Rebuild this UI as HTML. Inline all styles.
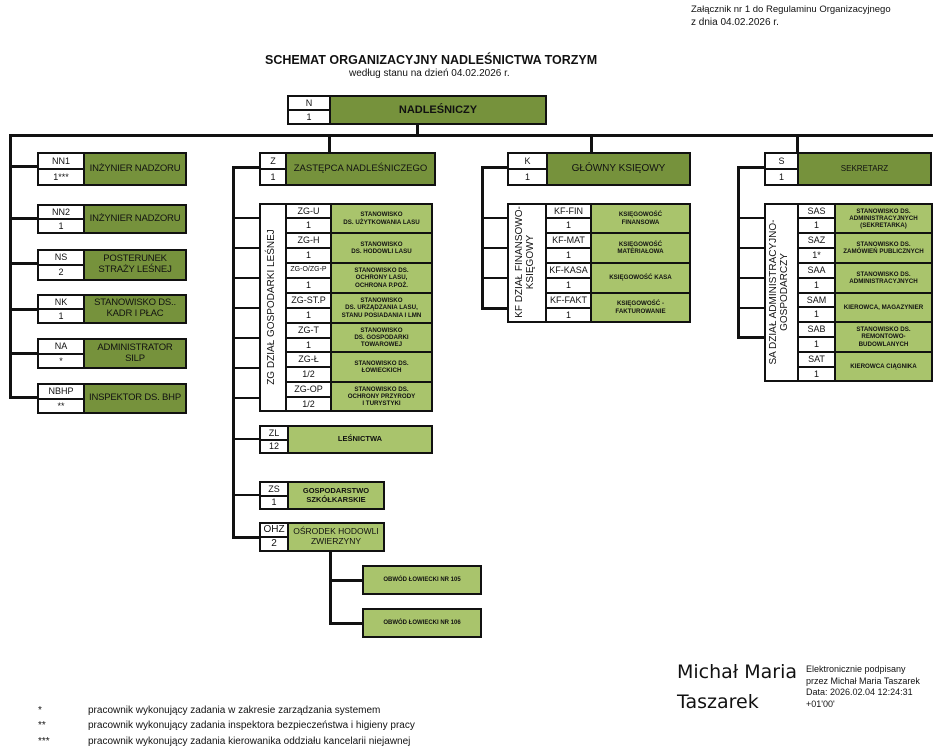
<!DOCTYPE html>
<html><head><meta charset="utf-8"><style>
body{margin:0;width:940px;height:754px;background:#fff;position:relative;overflow:hidden;font-family:"Liberation Sans",sans-serif;color:#111}
.r{position:absolute;box-sizing:border-box;border:2px solid #111;display:flex;align-items:center;justify-content:center;text-align:center;line-height:1.15;background:#fff}
.g{background:#76923c}
.l{background:#a9c46c;font-weight:bold;font-size:6.2px}
.h{position:absolute;background:#111}
.t{position:absolute;white-space:nowrap}
.c{font-size:9px}
.v{position:absolute;transform:rotate(-90deg);transform-origin:center;white-space:nowrap;text-align:center;font-size:10px;line-height:1.1}
.lg{font-size:9.5px;letter-spacing:-0.2px}
</style></head><body>
<div class="t" style="left:691px;top:4px;font-size:9.5px">Załącznik nr 1 do Regulaminu Organizacyjnego</div>
<div class="t" style="left:691px;top:17px;font-size:10px">z dnia 04.02.2026 r.</div>
<div class="t" style="left:265px;top:53px;font-size:12.5px;font-weight:bold">SCHEMAT ORGANIZACYJNY NADLEŚNICTWA TORZYM</div>
<div class="t" style="left:349px;top:68px;font-size:10px">według stanu na dzień 04.02.2026 r.</div>

<div class="r c" style="left:287px;top:95px;width:44px;height:16px">N</div>
<div class="r c" style="left:287px;top:109px;width:44px;height:16px">1</div>
<div class="r g" style="left:329px;top:95px;width:218px;height:30px;font-size:11px;font-weight:bold">NADLEŚNICZY</div>
<div class="h" style="left:416px;top:124px;width:3px;height:12px"></div>
<div class="h" style="left:9px;top:134px;width:924px;height:3px"></div>
<div class="h" style="left:9px;top:134px;width:3px;height:265px"></div>
<div class="h" style="left:328px;top:134px;width:3px;height:19px"></div>
<div class="h" style="left:590px;top:134px;width:3px;height:19px"></div>
<div class="h" style="left:796px;top:134px;width:3px;height:19px"></div>

<div class="h" style="left:9px;top:165px;width:29px;height:3px"></div>
<div class="h" style="left:9px;top:217px;width:29px;height:3px"></div>
<div class="h" style="left:9px;top:262px;width:29px;height:3px"></div>
<div class="h" style="left:9px;top:308px;width:29px;height:3px"></div>
<div class="h" style="left:9px;top:352px;width:29px;height:3px"></div>
<div class="h" style="left:9px;top:396px;width:29px;height:3px"></div>

<div class="r c" style="left:37px;top:152px;width:48px;height:18px">NN1</div>
<div class="r c" style="left:37px;top:168px;width:48px;height:18px">1***</div>
<div class="r g lg" style="left:83px;top:152px;width:104px;height:34px">INŻYNIER NADZORU</div>
<div class="r c" style="left:37px;top:204px;width:48px;height:16px">NN2</div>
<div class="r c" style="left:37px;top:218px;width:48px;height:16px">1</div>
<div class="r g lg" style="left:83px;top:204px;width:104px;height:30px">INŻYNIER NADZORU</div>
<div class="r c" style="left:37px;top:249px;width:48px;height:17px">NS</div>
<div class="r c" style="left:37px;top:264px;width:48px;height:17px">2</div>
<div class="r g lg" style="left:83px;top:249px;width:104px;height:32px">POSTERUNEK<br>STRAŻY LEŚNEJ</div>
<div class="r c" style="left:37px;top:294px;width:48px;height:16px">NK</div>
<div class="r c" style="left:37px;top:308px;width:48px;height:16px">1</div>
<div class="r g lg" style="left:83px;top:294px;width:104px;height:30px">STANOWISKO DS..<br>KADR I PŁAC</div>
<div class="r c" style="left:37px;top:338px;width:48px;height:17px">NA</div>
<div class="r c" style="left:37px;top:353px;width:48px;height:16px">*</div>
<div class="r g lg" style="left:83px;top:338px;width:104px;height:31px">ADMINISTRATOR<br>SILP</div>
<div class="r c" style="left:37px;top:383px;width:48px;height:17px">NBHP</div>
<div class="r c" style="left:37px;top:398px;width:48px;height:16px">**</div>
<div class="r g lg" style="left:83px;top:383px;width:104px;height:31px;white-space:nowrap">INSPEKTOR DS. BHP</div>

<div class="r c" style="left:259px;top:152px;width:28px;height:18px">Z</div>
<div class="r c" style="left:259px;top:168px;width:28px;height:18px">1</div>
<div class="r g" style="left:285px;top:152px;width:151px;height:34px;font-size:9.5px">ZASTĘPCA NADLEŚNICZEGO</div>
<div class="h" style="left:232px;top:166px;width:3px;height:373px"></div>
<div class="h" style="left:232px;top:166px;width:28px;height:3px"></div>
<div class="h" style="left:232px;top:217px;width:28px;height:1.5px"></div>
<div class="h" style="left:232px;top:247px;width:28px;height:1.5px"></div>
<div class="h" style="left:232px;top:277px;width:28px;height:1.5px"></div>
<div class="h" style="left:232px;top:307px;width:28px;height:1.5px"></div>
<div class="h" style="left:232px;top:337px;width:28px;height:1.5px"></div>
<div class="h" style="left:232px;top:367px;width:28px;height:1.5px"></div>
<div class="h" style="left:232px;top:397px;width:28px;height:1.5px"></div>
<div class="h" style="left:232px;top:438px;width:28px;height:1.5px"></div>
<div class="h" style="left:232px;top:494px;width:28px;height:1.5px"></div>
<div class="h" style="left:232px;top:536px;width:28px;height:3px"></div>
<div class="r" style="left:259px;top:203px;width:28px;height:209px"></div>
<div class="v" style="left:173px;top:300px;width:200px;height:14px">ZG DZIAŁ GOSPODARKI LEŚNEJ</div>
<div class="r c" style="left:285px;top:203px;width:47px;height:16px">ZG-U</div><div class="r c" style="left:285px;top:217px;width:47px;height:17px">1</div><div class="r l" style="left:330px;top:203px;width:103px;height:31px">STANOWISKO<br>DS. UŻYTKOWANIA LASU</div>
<div class="r c" style="left:285px;top:232px;width:47px;height:17px">ZG-H</div><div class="r c" style="left:285px;top:247px;width:47px;height:17px">1</div><div class="r l" style="left:330px;top:232px;width:103px;height:32px">STANOWISKO<br>DS. HODOWLI LASU</div>
<div class="r" style="left:285px;top:262px;width:47px;height:17px;font-size:7px">ZG-O/ZG-P</div><div class="r c" style="left:285px;top:277px;width:47px;height:17px">1</div><div class="r l" style="left:330px;top:262px;width:103px;height:32px">STANOWISKO DS.<br>OCHRONY LASU,<br>OCHRONA P.POŻ.</div>
<div class="r c" style="left:285px;top:292px;width:47px;height:17px">ZG-ST.P</div><div class="r c" style="left:285px;top:307px;width:47px;height:17px">1</div><div class="r l" style="left:330px;top:292px;width:103px;height:32px">STANOWISKO<br>DS. URZĄDZANIA LASU,<br>STANU POSIADANIA I LMN</div>
<div class="r c" style="left:285px;top:322px;width:47px;height:17px">ZG-T</div><div class="r c" style="left:285px;top:337px;width:47px;height:16px">1</div><div class="r l" style="left:330px;top:322px;width:103px;height:31px">STANOWISKO<br>DS. GOSPODARKI<br>TOWAROWEJ</div>
<div class="r c" style="left:285px;top:351px;width:47px;height:17px">ZG-Ł</div><div class="r c" style="left:285px;top:366px;width:47px;height:17px">1/2</div><div class="r l" style="left:330px;top:351px;width:103px;height:32px">STANOWISKO DS.<br>ŁOWIECKICH</div>
<div class="r c" style="left:285px;top:381px;width:47px;height:17px">ZG-OP</div><div class="r c" style="left:285px;top:396px;width:47px;height:16px">1/2</div><div class="r l" style="left:330px;top:381px;width:103px;height:31px">STANOWISKO DS.<br>OCHRONY PRZYRODY<br>I TURYSTYKI</div>
<div class="r c" style="left:259px;top:425px;width:30px;height:16px">ZL</div><div class="r c" style="left:259px;top:439px;width:30px;height:15px">12</div><div class="r l" style="left:287px;top:425px;width:146px;height:29px;font-size:7.5px">LEŚNICTWA</div>
<div class="r c" style="left:259px;top:481px;width:30px;height:16px">ZS</div><div class="r c" style="left:259px;top:495px;width:30px;height:15px">1</div><div class="r l" style="left:287px;top:481px;width:98px;height:29px;font-size:7.5px">GOSPODARSTWO<br>SZKÓŁKARSKIE</div>
<div class="r c" style="left:259px;top:522px;width:30px;height:16px;font-size:10px">OHZ</div><div class="r c" style="left:259px;top:536px;width:30px;height:16px;font-size:10px">2</div><div class="r l" style="left:287px;top:522px;width:98px;height:30px;font-size:8.5px;font-weight:normal">OŚRODEK HODOWLI<br>ZWIERZYNY</div>
<div class="h" style="left:329px;top:551px;width:3px;height:74px"></div>
<div class="h" style="left:329px;top:579px;width:34px;height:3px"></div>
<div class="h" style="left:329px;top:622px;width:34px;height:3px"></div>
<div class="r l" style="left:362px;top:565px;width:120px;height:30px;font-size:6px">OBWÓD ŁOWIECKI NR 105</div>
<div class="r l" style="left:362px;top:608px;width:120px;height:30px;font-size:6px">OBWÓD ŁOWIECKI NR 106</div>

<div class="r c" style="left:507px;top:152px;width:41px;height:18px">K</div>
<div class="r c" style="left:507px;top:168px;width:41px;height:18px">1</div>
<div class="r g" style="left:546px;top:152px;width:145px;height:34px;font-size:10px">GŁÓWNY KSIĘOWY</div>
<div class="h" style="left:481px;top:166px;width:3px;height:144px"></div>
<div class="h" style="left:481px;top:166px;width:27px;height:3px"></div>
<div class="h" style="left:481px;top:217px;width:27px;height:1.5px"></div>
<div class="h" style="left:481px;top:247px;width:27px;height:1.5px"></div>
<div class="h" style="left:481px;top:277px;width:27px;height:1.5px"></div>
<div class="h" style="left:481px;top:307px;width:27px;height:3px"></div>
<div class="r" style="left:507px;top:203px;width:40px;height:120px"></div>
<div class="v" style="left:467px;top:249px;width:120px;height:26px">KF DZIAŁ FINANSOWO-<br>KSIĘGOWY</div>
<div class="r c" style="left:545px;top:203px;width:47px;height:16px">KF-FIN</div><div class="r c" style="left:545px;top:217px;width:47px;height:17px">1</div><div class="r l" style="left:590px;top:203px;width:101px;height:31px">KSIĘGOWOŚĆ<br>FINANSOWA</div>
<div class="r c" style="left:545px;top:232px;width:47px;height:17px">KF-MAT</div><div class="r c" style="left:545px;top:247px;width:47px;height:17px">1</div><div class="r l" style="left:590px;top:232px;width:101px;height:32px">KSIĘGOWOŚĆ<br>MATERIAŁOWA</div>
<div class="r c" style="left:545px;top:262px;width:47px;height:17px">KF-KASA</div><div class="r c" style="left:545px;top:277px;width:47px;height:17px">1</div><div class="r l" style="left:590px;top:262px;width:101px;height:32px">KSIĘGOWOŚĆ KASA</div>
<div class="r c" style="left:545px;top:292px;width:47px;height:17px">KF-FAKT</div><div class="r c" style="left:545px;top:307px;width:47px;height:16px">1</div><div class="r l" style="left:590px;top:292px;width:101px;height:31px">KSIĘGOWOŚĆ -<br>FAKTUROWANIE</div>

<div class="r c" style="left:764px;top:152px;width:35px;height:18px">S</div>
<div class="r c" style="left:764px;top:168px;width:35px;height:18px">1</div>
<div class="r g" style="left:797px;top:152px;width:135px;height:34px;font-size:8px">SEKRETARZ</div>
<div class="h" style="left:737px;top:166px;width:3px;height:173px"></div>
<div class="h" style="left:737px;top:166px;width:28px;height:3px"></div>
<div class="h" style="left:737px;top:217px;width:28px;height:1.5px"></div>
<div class="h" style="left:737px;top:247px;width:28px;height:1.5px"></div>
<div class="h" style="left:737px;top:277px;width:28px;height:1.5px"></div>
<div class="h" style="left:737px;top:307px;width:28px;height:1.5px"></div>
<div class="h" style="left:737px;top:336px;width:28px;height:3px"></div>
<div class="r" style="left:764px;top:203px;width:35px;height:179px"></div>
<div class="v" style="left:701px;top:279px;width:160px;height:26px">SA DZIAŁ ADMINISTRACYJNO-<br>GOSPODARCZY</div>
<div class="r c" style="left:797px;top:203px;width:39px;height:16px">SAS</div><div class="r c" style="left:797px;top:217px;width:39px;height:17px">1</div><div class="r l" style="left:834px;top:203px;width:99px;height:31px">STANOWISKO DS.<br>ADMINISTRACYJNYCH<br>(SEKRETARKA)</div>
<div class="r c" style="left:797px;top:232px;width:39px;height:17px">SAZ</div><div class="r c" style="left:797px;top:247px;width:39px;height:17px">1*</div><div class="r l" style="left:834px;top:232px;width:99px;height:32px">STANOWISKO DS.<br>ZAMÓWIEŃ PUBLICZNYCH</div>
<div class="r c" style="left:797px;top:262px;width:39px;height:17px">SAA</div><div class="r c" style="left:797px;top:277px;width:39px;height:17px">1</div><div class="r l" style="left:834px;top:262px;width:99px;height:32px">STANOWISKO DS.<br>ADMINISTRACYJNYCH</div>
<div class="r c" style="left:797px;top:292px;width:39px;height:16px">SAM</div><div class="r c" style="left:797px;top:306px;width:39px;height:17px">1</div><div class="r l" style="left:834px;top:292px;width:99px;height:31px">KIEROWCA, MAGAZYNIER</div>
<div class="r c" style="left:797px;top:321px;width:39px;height:17px">SAB</div><div class="r c" style="left:797px;top:336px;width:39px;height:17px">1</div><div class="r l" style="left:834px;top:321px;width:99px;height:32px">STANOWISKO DS.<br>REMONTOWO-<br>BUDOWLANYCH</div>
<div class="r c" style="left:797px;top:351px;width:39px;height:17px">SAT</div><div class="r c" style="left:797px;top:366px;width:39px;height:16px">1</div><div class="r l" style="left:834px;top:351px;width:99px;height:31px">KIEROWCA CIĄGNIKA</div>

<div class="t" style="left:677px;top:661px;font-size:19px;font-family:'DejaVu Sans',sans-serif">Michał Maria</div>
<div class="t" style="left:677px;top:691px;font-size:19px;font-family:'DejaVu Sans',sans-serif">Taszarek</div>
<div class="t" style="left:806px;top:664px;font-size:9px;line-height:11.5px">Elektronicznie podpisany<br>przez Michał Maria Taszarek<br>Data: 2026.02.04 12:24:31<br>+01'00'</div>

<div class="t" style="left:38px;top:705px;font-size:10px">*</div><div class="t" style="left:88px;top:705px;font-size:10px">pracownik wykonujący zadania w zakresie zarządzania systemem</div>
<div class="t" style="left:38px;top:720px;font-size:10px">**</div><div class="t" style="left:88px;top:720px;font-size:10px">pracownik wykonujący zadania inspektora bezpieczeństwa i higieny pracy</div>
<div class="t" style="left:38px;top:736px;font-size:10px">***</div><div class="t" style="left:88px;top:736px;font-size:10px">pracownik wykonujący zadania kierowanika oddziału kancelarii niejawnej</div>
</body></html>
